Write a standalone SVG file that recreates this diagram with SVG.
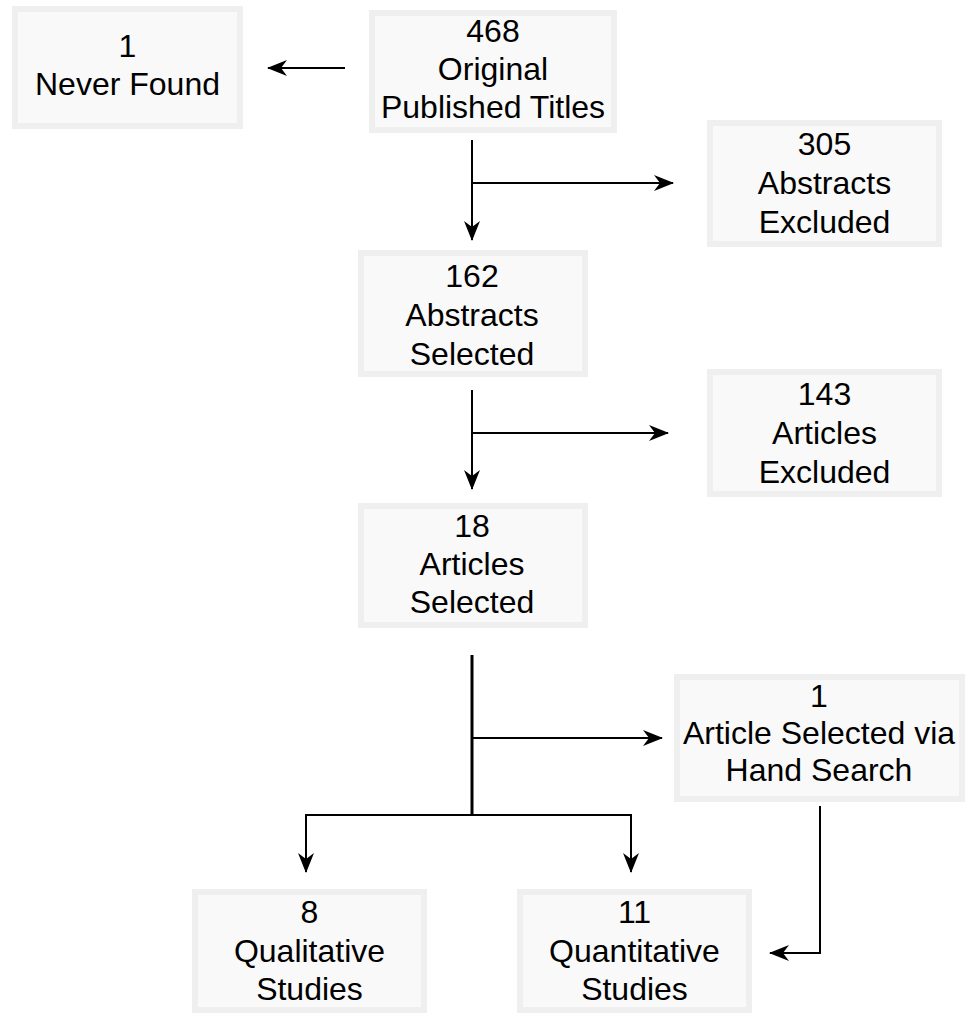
<svg xmlns="http://www.w3.org/2000/svg" width="965" height="1013" viewBox="0 0 965 1013">
<style>
.box{fill:#f9f9f9;stroke:#efefef;stroke-width:6}
.t{font-family:"Liberation Sans",Arial,Helvetica,sans-serif;font-size:32px;fill:#000;text-anchor:middle}
.c{fill:none;stroke:#000;stroke-width:2}
.c3{fill:none;stroke:#000;stroke-width:3}
</style>
<defs>
<marker id="ah" viewBox="0 0 20 16" refX="19" refY="8" markerWidth="20" markerHeight="16" markerUnits="userSpaceOnUse" orient="auto">
<path d="M0,0 L20,8 L0,16 L6,8 Z" fill="#000"/>
</marker>
</defs>
<rect width="965" height="1013" fill="#fff"/>
<g id="connectors">
<line class="c" x1="345" y1="68" x2="268" y2="68" marker-end="url(#ah)"/>
<line class="c" x1="472" y1="140" x2="472" y2="240" marker-end="url(#ah)"/>
<line class="c" x1="472" y1="183" x2="673" y2="183" marker-end="url(#ah)"/>
<line class="c" x1="472" y1="390" x2="472" y2="489" marker-end="url(#ah)"/>
<line class="c" x1="472" y1="433" x2="668" y2="433" marker-end="url(#ah)"/>
<line class="c3" x1="472" y1="655" x2="472" y2="816"/>
<line class="c" x1="472" y1="738" x2="662" y2="738" marker-end="url(#ah)"/>
<line class="c" x1="305" y1="815" x2="632" y2="815"/>
<line class="c" x1="306" y1="814" x2="306" y2="872" marker-end="url(#ah)"/>
<line class="c" x1="631" y1="814" x2="631" y2="872" marker-end="url(#ah)"/>
<polyline class="c" points="820,806 820,953 770,953" marker-end="url(#ah)"/>
</g>
<g id="never-found">
<rect class="box" x="15" y="9" width="225" height="117"/>
<text class="t" x="127.5" y="57">1</text>
<text class="t" x="127.5" y="95">Never Found</text>
</g>
<g id="original-titles">
<rect class="box" x="372" y="13" width="242" height="117"/>
<text class="t" x="493" y="42">468</text>
<text class="t" x="493" y="80">Original</text>
<text class="t" x="493" y="118">Published Titles</text>
</g>
<g id="abstracts-excluded">
<rect class="box" x="710" y="123" width="229" height="121"/>
<text class="t" x="824.5" y="155">305</text>
<text class="t" x="824.5" y="194">Abstracts</text>
<text class="t" x="824.5" y="233">Excluded</text>
</g>
<g id="abstracts-selected">
<rect class="box" x="361" y="253" width="224" height="121"/>
<text class="t" x="472" y="287">162</text>
<text class="t" x="472" y="326">Abstracts</text>
<text class="t" x="472" y="365">Selected</text>
</g>
<g id="articles-excluded">
<rect class="box" x="710" y="372" width="229" height="122"/>
<text class="t" x="824.5" y="405">143</text>
<text class="t" x="824.5" y="444">Articles</text>
<text class="t" x="824.5" y="483">Excluded</text>
</g>
<g id="articles-selected">
<rect class="box" x="361" y="506" width="224" height="119"/>
<text class="t" x="472" y="537">18</text>
<text class="t" x="472" y="575">Articles</text>
<text class="t" x="472" y="613">Selected</text>
</g>
<g id="hand-search">
<rect class="box" x="677" y="677" width="285" height="122"/>
<text class="t" x="819" y="707">1</text>
<text class="t" x="819" y="744">Article Selected via</text>
<text class="t" x="819" y="781">Hand Search</text>
</g>
<g id="qualitative">
<rect class="box" x="195" y="892" width="229" height="118"/>
<text class="t" x="309.5" y="923">8</text>
<text class="t" x="309.5" y="962">Qualitative</text>
<text class="t" x="309.5" y="1000">Studies</text>
</g>
<g id="quantitative">
<rect class="box" x="520" y="892" width="229" height="118"/>
<text class="t" x="634.5" y="923">11</text>
<text class="t" x="634.5" y="962">Quantitative</text>
<text class="t" x="634.5" y="1000">Studies</text>
</g>
</svg>
